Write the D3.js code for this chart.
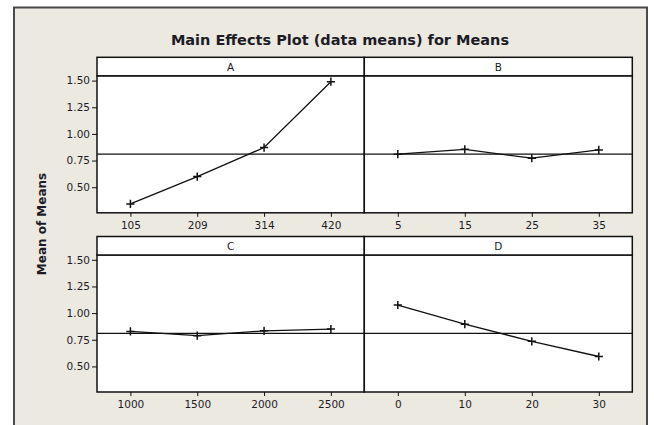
<!DOCTYPE html>
<html>
<head>
<meta charset="utf-8">
<script src="https://cdn.jsdelivr.net/npm/d3@7"></script>
<style>
  body { margin: 0; background: #fff; }
  text { font-family: "DejaVu Sans", Verdana, sans-serif; fill: #1c1c28; }
</style>
</head>
<body>
<svg id="chart" width="654" height="425"></svg>
<script>
const factors = [ "A", "B", "C", "D" ];
const levelsA = [ "105", "209", "314", "420" ];
const levelsB = [ "5", "15", "25", "35" ];
const levelsC = [ "1000", "1500", "2000", "2500" ];
const levelsD = [ "0", "10", "20", "30" ];
const meansA = [ 0.343, 0.600, 0.872, 1.490 ];
const meansB = [ 0.810, 0.855, 0.772, 0.850 ];
const meansC = [ 0.828, 0.788, 0.834, 0.850 ];
const meansD = [ 1.076, 0.896, 0.735, 0.593 ];
const grandMean = 0.81;
const yTicks = [ 0.50, 0.75, 1.00, 1.25, 1.50 ];

const levels = [ levelsA, levelsB, levelsC, levelsD ];
const means = [ meansA, meansB, meansC, meansD ];

const svg = d3.select( "#chart" );

// beige frame
svg.append( "rect" )
  .attr( "x", 14 ).attr( "y", 7.5 )
  .attr( "width", 633 ).attr( "height", 430 )
  .attr( "fill", "#ECE9E0" )
  .attr( "stroke", "#4a4a4a" )
  .attr( "stroke-width", 2 );

svg.append( "text" )
  .attr( "x", 340 ).attr( "y", 45 )
  .attr( "text-anchor", "middle" )
  .style( "font-weight", "bold" )
  .style( "font-size", "14.5px" )
  .text( "Main Effects Plot (data means) for Means" );

svg.append( "text" )
  .attr( "transform", "translate(46,224) rotate(-90)" )
  .attr( "text-anchor", "middle" )
  .style( "font-weight", "bold" )
  .style( "font-size", "12px" )
  .text( "Mean of Means" );

const COLS = [ 97, 364.3, 632.3 ];
const ROW_TOPS = [ 57.3, 236.5 ];
const STRIP_H = 18.5;
const PLOT_H = 137;

const y = d3.scaleLinear().domain( [ 0.26, 1.545 ] ).range( [ PLOT_H, 0 ] );

factors.forEach( ( f, i ) => {
  const col = i % 2;
  const row = Math.floor( i / 2 );
  const x0 = COLS[col];
  const w = COLS[col + 1] - COLS[col];
  const top = ROW_TOPS[row];

  const g = svg.append( "g" ).attr( "transform", `translate(${x0},${top + STRIP_H})` );

  const x = d3.scalePoint().domain( levels[i] ).range( [ 0, w ] ).padding( 0.5 );

  // strip
  svg.append( "rect" )
    .attr( "x", x0 ).attr( "y", top )
    .attr( "width", w ).attr( "height", STRIP_H )
    .attr( "fill", "#fff" )
    .attr( "stroke", "#111" ).attr( "stroke-width", 1.5 );
  svg.append( "text" )
    .attr( "x", x0 + w / 2 ).attr( "y", top + STRIP_H / 2 + 4 )
    .attr( "text-anchor", "middle" )
    .style( "font-size", "10.5px" )
    .text( f );

  // plot box
  g.append( "rect" )
    .attr( "width", w ).attr( "height", PLOT_H )
    .attr( "fill", "#fff" )
    .attr( "stroke", "#111" ).attr( "stroke-width", 1.5 );

  const xAxis = g.append( "g" )
    .attr( "transform", `translate(0,${PLOT_H})` )
    .call( d3.axisBottom( x ).tickSize( 4 ).tickPadding( 5 ) );
  xAxis.select( ".domain" ).remove();
  xAxis.selectAll( "line" ).attr( "stroke", "#111" );
  xAxis.selectAll( "text" ).style( "font-size", "10.5px" ).attr( "fill", "#1c1c28" );

  if ( col === 0 ) {
    const yAxis = g.append( "g" )
      .call( d3.axisLeft( y ).tickValues( yTicks ).tickFormat( d3.format( ".2f" ) ).tickSize( 5 ).tickPadding( 2 ) );
    yAxis.select( ".domain" ).remove();
    yAxis.selectAll( "line" ).attr( "stroke", "#111" );
    yAxis.selectAll( "text" ).style( "font-size", "10.5px" ).attr( "fill", "#1c1c28" );
  }

  // reference line at grand mean
  g.append( "line" )
    .attr( "x1", 0 ).attr( "x2", w )
    .attr( "y1", y( grandMean ) ).attr( "y2", y( grandMean ) )
    .attr( "stroke", "#111" ).attr( "stroke-width", 1.2 );

  const pts = levels[i].map( ( l, k ) => ( { l, v: means[i][k] } ) );

  g.append( "path" )
    .attr( "d", d3.line().x( d => x( d.l ) ).y( d => y( d.v ) )( pts ) )
    .attr( "fill", "none" )
    .attr( "stroke", "#111" ).attr( "stroke-width", 1.3 );

  g.selectAll( "path.pt" )
    .data( pts )
    .join( "path" )
    .attr( "class", "pt" )
    .attr( "transform", d => `translate(${x( d.l )},${y( d.v )})` )
    .attr( "d", d3.symbol( d3.symbolPlus, 24 ) )
    .attr( "fill", "none" )
    .attr( "stroke", "#111" ).attr( "stroke-width", 1.5 );
} );
</script>
</body>
</html>
